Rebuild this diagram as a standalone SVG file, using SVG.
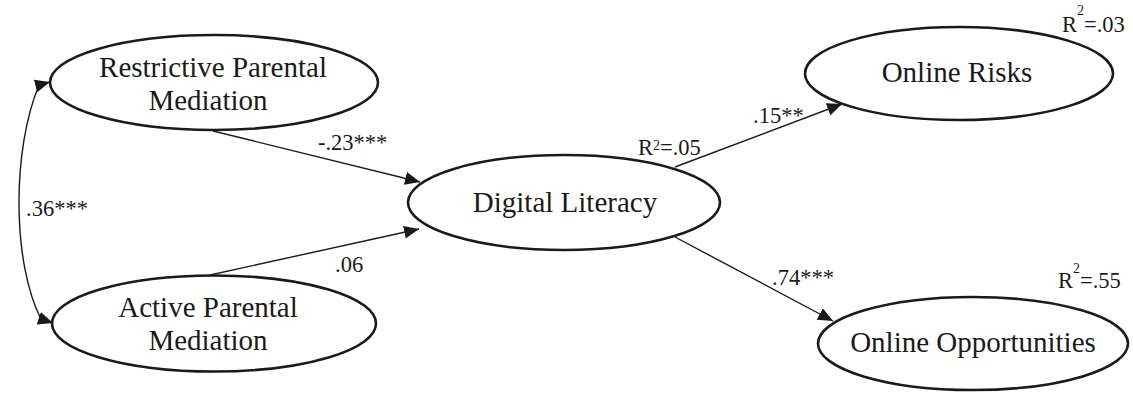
<svg xmlns="http://www.w3.org/2000/svg" width="1133" height="393" viewBox="0 0 1133 393">
<style>
.node ellipse{fill:#fff;stroke:#1a1a1a;stroke-width:2.6}
.nt{font-family:"Liberation Serif","Times New Roman",serif;font-size:29px;fill:#1a1a1a;text-anchor:middle}
.lb{font-family:"Liberation Serif","Times New Roman",serif;font-size:22.5px;fill:#1a1a1a}
.sup{font-size:14px}
.edge{fill:none;stroke:#1a1a1a;stroke-width:1.4}
</style>
<defs>
<marker id="ah" markerUnits="userSpaceOnUse" markerWidth="16" markerHeight="14" refX="15" refY="6.5" orient="auto-start-reverse">
<path d="M0,0 L15,6.5 L0,13 z" fill="#1a1a1a"/>
</marker>
</defs>
<rect width="1133" height="393" fill="#fff"/>
<g id="connectors">
<path class="edge" d="M50,82 L39,85 C12,150 12,262 41,319 L53,323" marker-start="url(#ah)" marker-end="url(#ah)"/>
<line class="edge" x1="213" y1="131" x2="420" y2="182" marker-end="url(#ah)"/>
<line class="edge" x1="210" y1="275" x2="419" y2="229" marker-end="url(#ah)"/>
<line class="edge" x1="675" y1="167" x2="842" y2="104" marker-end="url(#ah)"/>
<line class="edge" x1="675" y1="237" x2="833" y2="321" marker-end="url(#ah)"/>
<text class="lb" x="26" y="216">.36***</text>
<text class="lb" x="318" y="150">-.23***</text>
<text class="lb" x="335" y="272">.06</text>
<text class="lb" x="753" y="123">.15**</text>
<text class="lb" x="772" y="285">.74***</text>
</g>
<g id="restrictive" class="node">
<ellipse cx="214" cy="82.5" rx="164" ry="47.5"/>
<text class="nt" x="213" y="77">Restrictive Parental</text>
<text class="nt" x="208" y="110">Mediation</text>
</g>
<g id="active" class="node">
<ellipse cx="214" cy="323.5" rx="162" ry="48"/>
<text class="nt" x="208" y="317">Active Parental</text>
<text class="nt" x="208" y="350">Mediation</text>
</g>
<g id="digital" class="node">
<ellipse cx="564" cy="202.5" rx="156" ry="47.5"/>
<text class="nt" x="565" y="212">Digital Literacy</text>
<text class="lb" x="638" y="155">R<tspan class="sup" dy="-5">2</tspan><tspan dy="5">=.05</tspan></text>
</g>
<g id="risks" class="node">
<ellipse cx="959" cy="73.5" rx="154" ry="46.5"/>
<text class="nt" x="957" y="82">Online Risks</text>
<text class="lb" x="1062" y="32">R<tspan class="sup" dy="-17">2</tspan><tspan dy="17">=.03</tspan></text>
</g>
<g id="opportunities" class="node">
<ellipse cx="973" cy="343.5" rx="155" ry="46.5"/>
<text class="nt" x="973" y="352">Online Opportunities</text>
<text class="lb" x="1058" y="288">R<tspan class="sup" dy="-15">2</tspan><tspan dy="15">=.55</tspan></text>
</g>
</svg>
